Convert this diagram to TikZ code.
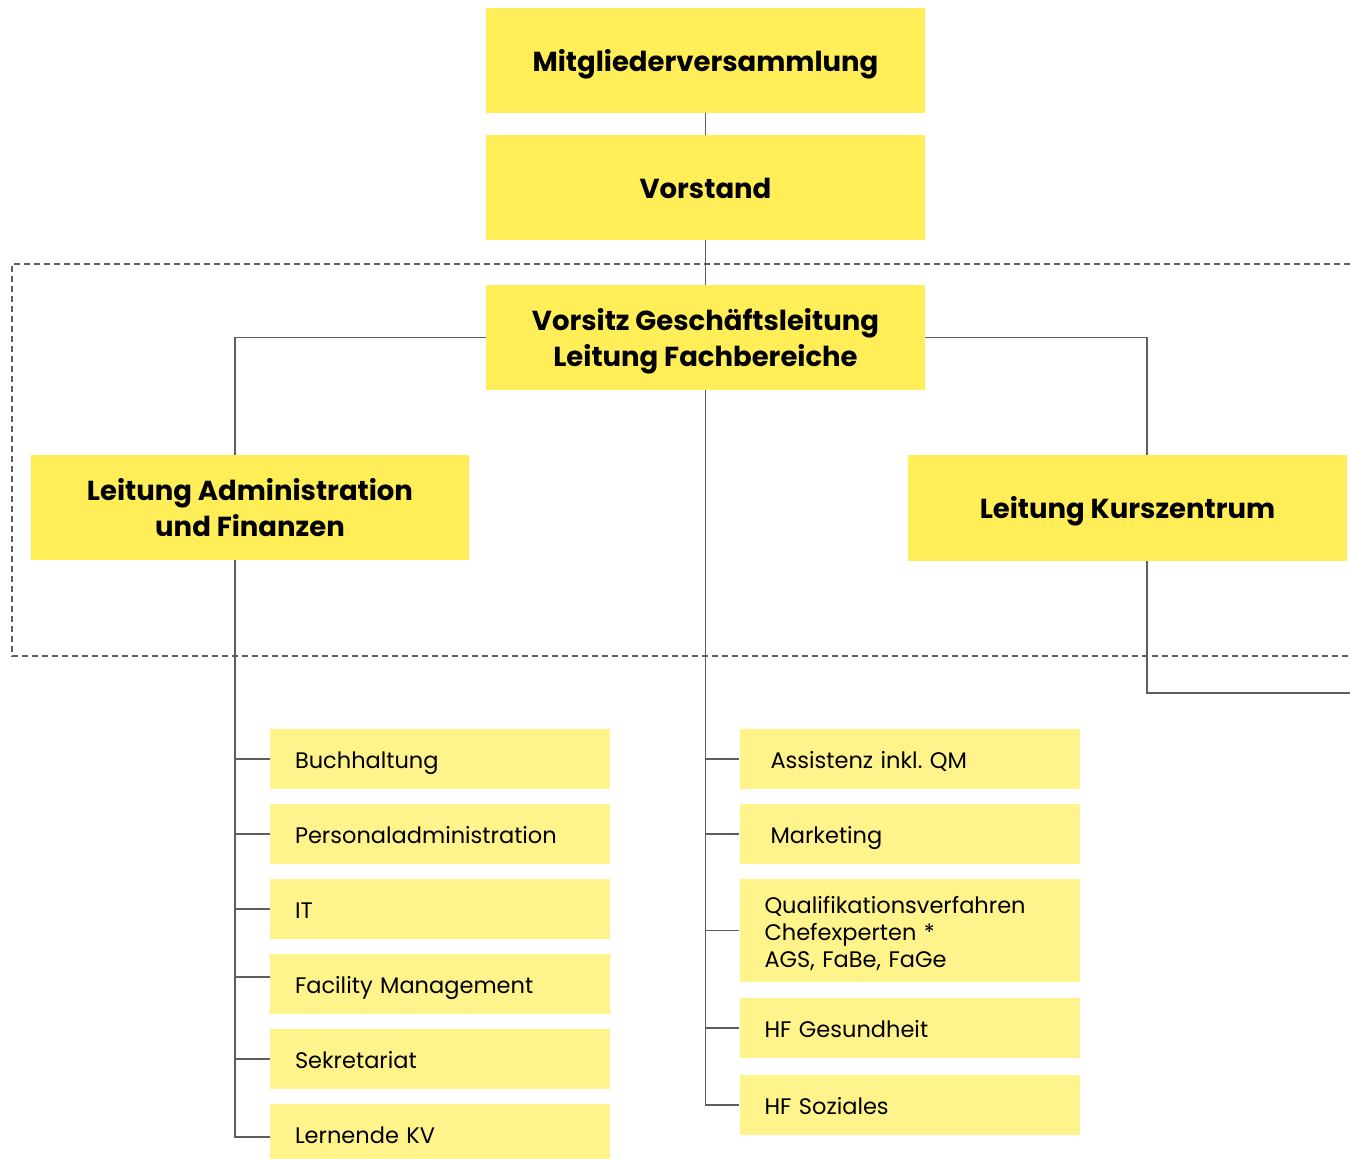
\documentclass[tikz,border=0pt]{standalone}
\usepackage{fontspec}
\setmainfont{Poppins}
\frenchspacing
\definecolor{bigyellow}{HTML}{FFEE58}
\definecolor{lightyellow}{HTML}{FFF38C}
\definecolor{linegray}{HTML}{5E5E5E}
\tikzset{topbox/.style={fill=bigyellow,minimum width=439pt,minimum height=105pt,
		inner sep=0pt,align=center,text height=21.6pt,text depth=0pt,
		font=\bfseries\fontsize{27.5}{36}\selectfont},
	twoline/.style={text height={},text depth=-2pt},
	listbox/.style={fill=lightyellow,minimum height=60pt,text width=290pt,
		inner xsep=25pt,inner ysep=0pt,align=left,font=\fontsize{22.5}{27}\selectfont},
	subbox/.style={listbox,text height=18.8pt,text depth=0pt},
	conn/.style={draw=linegray,line width=1.3pt},
	zone/.style={draw=linegray,line width=1.2pt,dash pattern=on 6pt off 4pt}}

\begin{document}
\begin{tikzpicture}
	[x=1pt,y=-1pt]
	\useasboundingbox (0,0) rectangle (1350,1159);

	\draw[zone] (1350,264) -- (12,264) -- (12,656) -- (1350,656);

	\node [topbox] (mv) at (705.5,60.5) {Mitgliederversammlung};
	\node [topbox] (vs) at (705.5,187.5) {Vorstand};
	\node [topbox,twoline] (gl) at (705.5,337.5) {Vorsitz Geschäftsleitung\\Leitung Fachbereiche};
	\node [topbox,twoline,minimum width=438pt] (adm) at (250,507.5) {Leitung Administration\\und Finanzen};
	\node [topbox,minimum height=106pt] (kz) at (1127.5,508) {Leitung Kurszentrum};

	\node [subbox] (buch) at (440,759) {Buchhaltung};
	\node [subbox] (pers) at (440,834) {Personaladministration};
	\node [subbox] (it) at (440,909) {IT};
	\node [subbox] (fm) at (440,984) {Facility Management};
	\node [subbox] (sek) at (440,1059) {Sekretariat};
	\node [subbox,minimum height=55pt,text height=24pt] (lkv) at (440,1131.5) {Lernende KV};

	\node [subbox,text width=278pt,inner xsep=31pt] (ass) at (909.5,759) {Assistenz inkl. QM};
	\node [subbox,text width=278pt,inner xsep=31pt] (mkt) at (909.5,834) {Marketing};
	\node [listbox,minimum height=103pt] (qv) at (909.5,930.5) {\rule{0pt}{23pt}Qualifikationsverfahren\\Chefexperten *\\AGS, FaBe, FaGe};
	\node [subbox] (hfg) at (909.5,1028) {HF Gesundheit};
	\node [subbox] (hfs) at (909.5,1105) {HF Soziales};

	\coordinate (ta) at ([xshift=-15pt]adm.south);
	\coordinate (tk) at ([xshift=19.5pt]kz.south);
	\coordinate (kzout) at (1350,693);

	\draw[conn] (mv) -- (vs);
	\draw[conn] (vs) -- (gl);
	\draw[conn] (gl.west) -| ([xshift=-15pt]adm.north);
	\draw[conn] (gl.east) -| ([xshift=19.5pt]kz.north);
	\draw[conn] (tk) |- (kzout);

	\draw[conn] (ta) |- ([yshift=-5.5pt]lkv.west);
	\foreach \n in {buch,pers,it,sek}
	\draw[conn] (\n.west) -- (\n.west -| ta);
	\draw[conn] ([yshift=7pt]fm.west) -- ([yshift=7pt]fm.west -| ta);

	\draw[conn] (gl.south) |- (hfs.west);
	\foreach \n in {ass,mkt,qv,hfg}
	\draw[conn] (\n.west) -- (\n.west -| gl.south);
\end{tikzpicture}
\end{document}
